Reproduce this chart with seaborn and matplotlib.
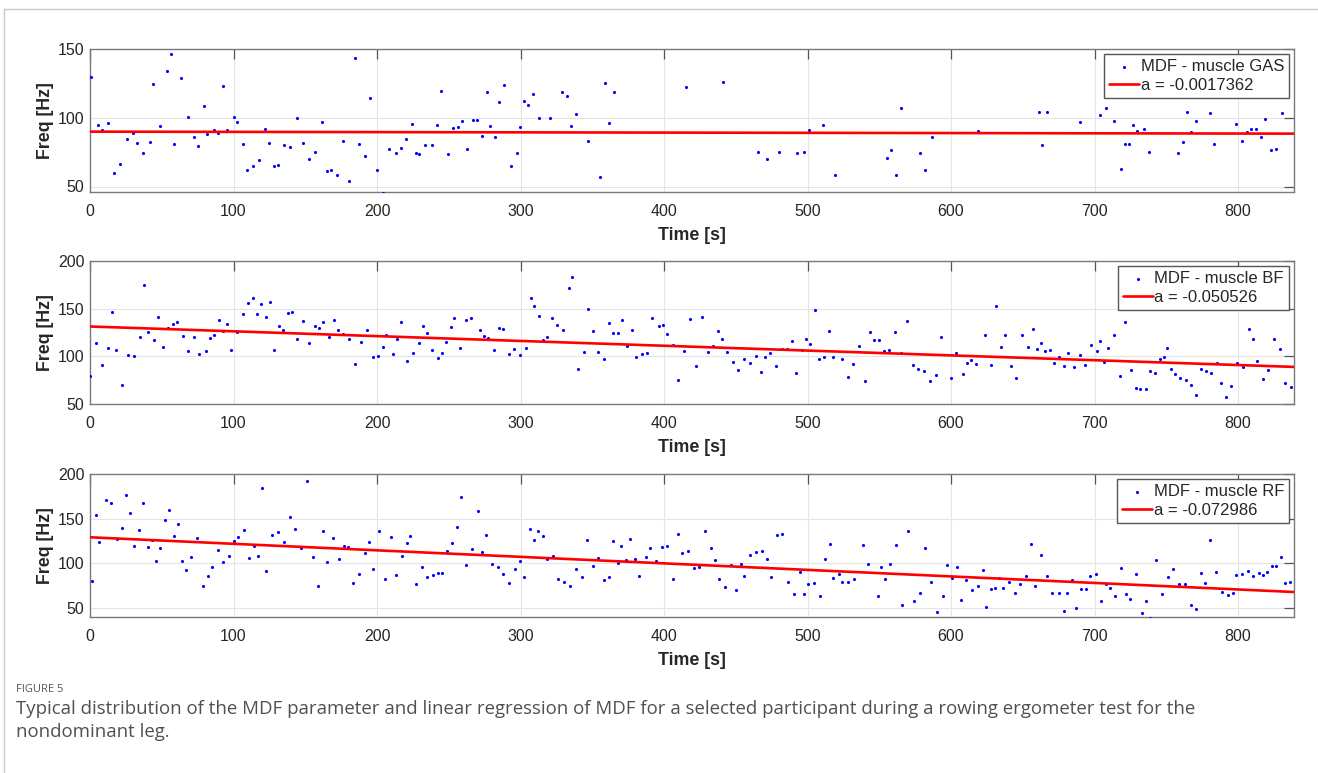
"""
MDF scatter + linear fit for three muscles (GAS, BF, RF), MATLAB-style panels.
"""

import numpy as np
import pandas as pd
import matplotlib
matplotlib.use("Agg")
import matplotlib.pyplot as plt
from matplotlib.lines import Line2D
import seaborn as sns

# ---- data ----
gas_time = [0.5, 5.3, 8.1, 12.5, 16.7, 20.9, 25.5, 30.2, 32.7, 36.9,
            41.6, 44.1, 48.7, 53.4, 56.2, 58.5, 63.1, 68.0, 72.7, 75.2,
            79.2, 81.7, 86.1, 88.9, 92.9, 95.6, 100.0, 102.6, 106.5, 109.3,
            113.5, 117.7, 121.6, 124.4, 128.4, 130.9, 135.1, 139.5, 143.9, 148.3,
            152.7, 157.1, 161.6, 165.3, 168.1, 172.2, 176.4, 180.8, 184.8, 187.3,
            191.3, 195.0, 200.1, 204.3, 208.4, 212.9, 216.6, 220.5, 224.5, 227.0,
            229.3, 233.1, 238.6, 241.6, 244.9, 249.3, 253.0, 256.5, 259.1, 263.0,
            267.0, 269.5, 273.0, 276.7, 279.0, 282.5, 285.0, 288.8, 293.2, 297.4,
            299.7, 302.7, 305.3, 308.8, 313.2, 320.6, 329.2, 332.7, 335.5, 338.7,
            347.3, 355.5, 358.7, 361.7, 365.2, 415.1, 441.0, 465.7, 472.0, 479.8,
            492.6, 497.2, 501.2, 511.1, 519.0, 555.3, 558.1, 562.0, 565.0, 578.7,
            581.7, 586.8, 619.1, 661.1, 663.6, 666.7, 690.1, 704.0, 708.0, 713.8,
            718.2, 721.1, 724.1, 727.0, 729.9, 734.5, 738.0, 758.0, 761.4, 764.6,
            767.4, 770.5, 780.2, 783.2, 798.3, 802.9, 805.9, 808.9, 812.2, 816.1,
            818.7, 823.1, 826.6, 830.6]
gas_mdf = [129.5, 94.5, 90.8, 96.2, 59.5, 66.4, 84.2, 89.1, 81.8, 74.2,
           82.5, 124.6, 93.8, 134.1, 146.1, 80.6, 128.7, 100.6, 86.0, 79.1,
           108.9, 88.4, 90.8, 89.1, 122.9, 91.1, 100.6, 96.9, 80.6, 62.2,
           64.7, 69.3, 91.8, 81.8, 64.7, 65.4, 80.1, 78.6, 100.1, 81.8,
           70.3, 75.2, 96.9, 61.0, 62.2, 58.1, 82.8, 53.7, 143.4, 80.6,
           72.5, 114.3, 61.7, 45.6, 77.6, 74.2, 77.9, 84.2, 95.7, 74.4,
           73.7, 80.3, 80.3, 94.7, 119.7, 73.7, 92.8, 93.0, 97.7, 77.4,
           98.7, 98.7, 86.4, 118.5, 94.3, 86.2, 111.4, 123.6, 64.7, 74.4,
           93.5, 112.1, 109.2, 117.5, 100.1, 100.1, 118.5, 115.5, 94.3, 102.6,
           82.8, 56.6, 125.6, 96.2, 118.5, 122.6, 125.8, 74.9, 70.0, 75.2,
           74.4, 74.9, 90.8, 95.0, 58.1, 71.0, 76.9, 58.6, 107.0, 74.7,
           62.0, 85.7, 90.6, 104.0, 80.1, 104.0, 96.9, 101.8, 107.2, 97.4,
           62.9, 81.1, 80.9, 94.5, 90.1, 91.6, 74.9, 74.4, 82.3, 104.3,
           89.6, 97.4, 103.3, 80.6, 95.7, 83.0, 89.9, 91.8, 92.1, 85.7,
           99.1, 76.7, 77.4, 103.3]

bf_time = [0.2, 3.9, 8.4, 12.3, 15.5, 18.3, 22.3, 26.5, 30.4, 34.6,
           37.8, 40.6, 44.5, 47.6, 50.6, 54.3, 57.5, 60.8, 64.5, 68.4,
           72.4, 76.3, 80.5, 83.8, 86.5, 89.8, 92.6, 95.6, 98.4, 102.3,
           106.3, 110.4, 113.7, 116.5, 119.5, 122.3, 125.3, 128.1, 132.0, 134.6,
           137.8, 140.6, 144.5, 148.5, 152.4, 156.6, 159.9, 162.2, 166.6, 170.3,
           172.9, 176.1, 180.7, 184.9, 188.9, 192.8, 197.0, 200.7, 204.0, 206.5,
           210.9, 214.0, 216.5, 220.9, 225.3, 229.0, 231.8, 234.6, 238.5, 242.5,
           245.5, 248.0, 251.5, 253.8, 258.0, 261.7, 265.4, 271.7, 274.7, 277.5,
           281.7, 285.0, 287.7, 291.7, 295.8, 299.8, 304.0, 307.0, 309.5, 313.0,
           315.8, 318.8, 321.8, 325.5, 329.9, 333.9, 336.2, 340.4, 344.3, 347.3,
           350.4, 354.1, 358.0, 361.5, 364.3, 368.2, 371.0, 374.0, 378.0, 380.5,
           384.5, 388.2, 391.9, 396.3, 399.3, 402.1, 406.3, 410.0, 414.2, 418.3,
           422.5, 426.4, 430.6, 434.1, 437.6, 440.1, 443.8, 447.8, 451.7, 455.4,
           459.6, 463.8, 467.3, 470.1, 473.8, 478.0, 481.9, 485.9, 488.9, 491.9,
           496.1, 499.1, 501.9, 505.1, 507.9, 511.8, 514.9, 517.9, 523.9, 527.9,
           531.4, 536.0, 540.2, 543.6, 546.4, 549.7, 553.4, 557.1, 561.0, 565.0,
           569.1, 573.5, 577.0, 581.2, 585.4, 589.6, 592.8, 599.8, 603.5, 608.1,
           611.1, 613.9, 617.2, 623.9, 627.6, 631.4, 634.6, 637.4, 641.7, 645.4,
           649.6, 653.5, 656.8, 659.8, 662.8, 665.8, 668.9, 671.9, 675.4, 678.4,
           681.4, 685.8, 689.8, 693.5, 697.2, 701.4, 703.9, 706.9, 709.5, 713.4,
           717.8, 721.3, 725.3, 728.7, 732.0, 735.9, 738.9, 741.9, 745.4, 748.2,
           750.8, 753.3, 755.9, 759.6, 764.0, 767.5, 771.0, 774.0, 777.9, 781.2,
           785.3, 788.4, 791.4, 795.3, 799.5, 803.2, 807.4, 810.6, 813.4, 817.2,
           820.9, 825.1, 829.0, 832.9, 836.7]
bf_mdf = [79.4, 114.5, 91.1, 108.5, 146.1, 107.1, 69.5, 101.4, 100.0, 120.2,
          174.5, 125.2, 117.0, 141.1, 109.6, 129.4, 134.0, 135.5, 121.3, 105.7,
          119.9, 102.1, 105.7, 118.8, 122.3, 137.6, 126.2, 134.4, 106.4, 125.5,
          144.3, 155.7, 161.0, 144.3, 155.3, 140.8, 157.1, 106.7, 132.3, 128.0,
          145.0, 146.1, 118.1, 136.9, 114.2, 132.3, 129.4, 135.8, 120.2, 137.9,
          127.7, 123.4, 118.1, 92.2, 114.9, 128.0, 98.9, 100.7, 109.9, 122.3,
          102.5, 118.1, 136.5, 94.7, 103.2, 113.8, 131.6, 124.1, 106.4, 97.9,
          103.5, 115.2, 130.5, 140.4, 109.2, 137.6, 140.4, 127.3, 121.3, 118.8,
          106.4, 129.8, 128.7, 102.8, 107.4, 101.8, 108.5, 161.0, 152.8, 142.6,
          116.7, 120.6, 140.4, 133.0, 127.3, 171.3, 183.0, 86.2, 104.3, 150.0,
          126.2, 104.3, 97.2, 135.1, 124.8, 124.1, 137.9, 110.6, 128.0, 99.6,
          102.5, 103.9, 140.4, 132.3, 133.3, 123.4, 111.7, 74.8, 105.7, 139.0,
          90.1, 140.8, 104.6, 111.3, 126.2, 118.1, 104.3, 94.0, 85.5, 97.5,
          92.9, 100.4, 84.0, 99.6, 103.5, 90.1, 108.2, 108.2, 116.0, 83.0,
          107.1, 117.7, 112.8, 148.9, 97.2, 99.6, 126.6, 99.6, 96.8, 78.4,
          91.5, 111.3, 74.5, 125.9, 117.0, 117.4, 105.3, 106.7, 125.9, 103.9,
          136.9, 91.1, 86.5, 84.4, 74.1, 80.9, 120.6, 77.7, 103.9, 81.9,
          93.3, 96.5, 91.8, 122.3, 90.8, 152.5, 109.9, 121.9, 89.4, 77.7,
          122.3, 110.3, 129.1, 108.2, 114.5, 105.7, 106.4, 93.3, 99.3, 90.1,
          103.2, 88.3, 101.4, 91.1, 112.1, 106.0, 115.6, 93.6, 109.2, 121.9,
          79.1, 136.5, 85.8, 67.0, 65.6, 65.6, 84.4, 83.0, 96.8, 99.3,
          108.9, 86.2, 81.9, 77.0, 74.8, 70.2, 59.9, 87.2, 84.4, 82.3,
          92.6, 72.0, 57.8, 68.4, 93.3, 88.3, 128.4, 117.7, 95.0, 75.9,
          85.8, 117.7, 107.8, 71.6, 67.4]

rf_time = [1.4, 4.2, 6.5, 10.9, 14.8, 18.8, 22.0, 24.8, 28.1, 30.9,
           34.1, 36.9, 40.4, 43.2, 46.2, 49.0, 52.2, 55.0, 58.2, 61.0,
           64.3, 67.1, 70.5, 74.9, 78.9, 82.4, 84.9, 89.1, 93.0, 97.2,
           100.2, 102.8, 107.2, 111.1, 114.6, 117.2, 120.2, 122.7, 126.7, 130.8,
           135.0, 139.2, 143.2, 147.3, 151.3, 155.2, 159.2, 162.6, 165.2, 169.4,
           173.3, 177.0, 179.6, 183.5, 187.2, 191.6, 194.7, 197.4, 201.6, 205.6,
           209.5, 213.5, 217.6, 220.6, 223.2, 227.1, 231.3, 235.0, 239.2, 242.5,
           245.2, 248.9, 252.4, 255.7, 258.2, 262.2, 265.9, 270.1, 273.3, 275.9,
           279.8, 284.2, 287.9, 291.9, 296.1, 299.3, 302.3, 306.3, 309.7, 312.1,
           315.8, 318.3, 322.3, 326.4, 330.2, 334.3, 338.5, 342.5, 346.4, 350.4,
           354.3, 358.3, 361.8, 364.3, 367.8, 370.3, 373.8, 376.6, 380.1, 382.6,
           387.1, 390.3, 394.7, 398.4, 402.3, 406.3, 409.8, 412.6, 416.5, 420.6,
           424.6, 428.5, 432.5, 435.7, 438.5, 442.5, 446.4, 450.4, 453.4, 455.9,
           459.9, 464.3, 468.2, 471.7, 474.3, 478.5, 482.2, 486.3, 490.5, 494.5,
           497.7, 500.3, 504.4, 508.4, 512.1, 515.6, 518.1, 521.6, 524.2, 528.3,
           532.5, 538.5, 542.2, 548.9, 551.0, 553.8, 557.7, 561.9, 566.1, 570.0,
           574.2, 578.2, 582.1, 586.1, 590.0, 594.4, 597.4, 600.4, 603.9, 606.7,
           610.4, 614.6, 618.5, 622.0, 624.6, 627.8, 630.6, 633.6, 636.4, 640.3,
           644.5, 648.2, 652.4, 655.6, 658.7, 662.4, 666.6, 670.7, 675.1, 678.4,
           680.9, 684.4, 686.8, 690.7, 694.2, 696.8, 700.7, 704.7, 707.9, 710.9,
           714.6, 718.6, 722.1, 724.6, 728.6, 732.8, 735.8, 738.8, 743.0, 746.9,
           751.1, 755.0, 759.0, 763.1, 767.1, 770.8, 774.3, 776.9, 780.8, 784.8,
           788.9, 792.9, 796.4, 798.9, 802.9, 806.6, 810.7, 814.5, 817.3, 820.5,
           823.8, 826.3, 829.6, 832.4, 836.1]
rf_mdf = [80.6, 153.9, 123.7, 170.9, 167.5, 127.1, 139.9, 176.2, 156.9, 119.9,
          137.3, 167.5, 118.8, 126.3, 102.9, 116.9, 148.6, 159.2, 130.1, 144.5,
          102.9, 93.1, 107.1, 128.6, 75.0, 85.5, 96.1, 115.0, 101.0, 108.2,
          125.2, 129.0, 137.7, 105.9, 119.5, 107.8, 183.8, 92.0, 131.6, 135.0,
          123.7, 152.0, 138.0, 117.3, 191.7, 107.4, 74.2, 135.8, 101.0, 128.2,
          105.2, 119.9, 118.0, 77.6, 87.8, 111.2, 123.7, 94.2, 136.5, 82.9,
          129.7, 87.4, 107.8, 122.6, 130.5, 76.8, 95.7, 84.8, 87.4, 89.3,
          88.9, 114.2, 122.6, 141.1, 174.3, 98.4, 116.5, 158.1, 112.4, 131.6,
          99.5, 96.1, 88.2, 77.6, 94.2, 102.2, 84.8, 138.8, 125.6, 136.2,
          130.9, 104.8, 108.6, 82.5, 79.1, 75.0, 93.8, 85.2, 125.6, 96.6,
          105.6, 81.0, 85.2, 124.8, 100.6, 119.5, 103.3, 127.1, 104.8, 85.9,
          107.1, 117.3, 102.5, 118.0, 119.9, 82.9, 133.1, 112.0, 113.9, 94.6,
          96.5, 135.8, 117.6, 103.7, 82.9, 73.4, 98.4, 70.4, 99.1, 85.9,
          109.3, 112.4, 114.2, 105.2, 84.4, 131.2, 133.1, 79.1, 65.9, 90.1,
          65.9, 76.8, 78.0, 63.2, 104.8, 121.4, 83.6, 87.8, 79.1, 79.1,
          82.5, 120.3, 98.8, 63.6, 95.7, 82.9, 98.8, 121.0, 53.4, 136.2,
          57.6, 67.0, 117.3, 79.5, 45.5, 63.2, 97.7, 84.0, 95.4, 59.5,
          81.4, 70.4, 75.0, 92.3, 50.8, 70.8, 72.7, 84.0, 71.9, 78.7,
          67.4, 76.5, 86.3, 121.8, 74.2, 109.3, 85.9, 66.7, 66.3, 47.0,
          66.7, 81.4, 50.0, 70.8, 70.8, 85.5, 87.8, 57.9, 76.5, 71.9,
          64.0, 95.0, 65.5, 60.2, 87.8, 44.4, 58.3, 39.1, 103.3, 65.9,
          84.8, 93.5, 76.8, 76.8, 53.8, 48.9, 88.9, 78.4, 125.6, 90.1,
          67.8, 64.4, 66.7, 86.7, 87.8, 92.0, 85.5, 89.7, 87.4, 90.1,
          97.2, 96.8, 107.1, 77.6, 79.1]

muscles = ["GAS", "BF", "RF"]
slopes = [-0.0017362, -0.050526, -0.072986]
intercepts = [89.9, 131.3, 129.2]
ylims = [(46, 150), (50, 200), (40, 200)]
yticks = [[50, 100, 150], [50, 100, 150, 200], [50, 100, 150, 200]]
xticks = [0, 100, 200, 300, 400, 500, 600, 700, 800]
x_end = 839

series = [(gas_time, gas_mdf), (bf_time, bf_mdf), (rf_time, rf_mdf)]

# ---- style ----
sns.set_style("whitegrid")
plt.rcParams["font.family"] = ["Liberation Sans", "DejaVu Sans"]
plt.rcParams["axes.edgecolor"] = "#7a7a7a"
plt.rcParams["grid.color"] = "#e4e4e4"
plt.rcParams["grid.linewidth"] = 0.8

W, H = 1318, 773
fig = plt.figure(figsize=(W / 100, H / 100), dpi=100)

# axes boxes in pixels: left, top, right, bottom
boxes = [(90, 49, 1294, 192), (90, 261, 1294, 404), (90, 474, 1294, 617)]

for i, (box, (t, f)) in enumerate(zip(boxes, series)):
    l, tp, r, b = box
    ax = fig.add_axes([l / W, 1 - b / H, (r - l) / W, (b - tp) / H])
    df = pd.DataFrame({"t": t, "f": f})
    sns.scatterplot(data=df, x="t", y="f", ax=ax, color="#0000ff", s=5,
                    linewidth=0, label=f"MDF - muscle {muscles[i]}", zorder=3)
    fit = pd.DataFrame({"t": [0, x_end]})
    fit["f"] = intercepts[i] + slopes[i] * fit["t"]
    sns.lineplot(data=fit, x="t", y="f", ax=ax, color="#ff0000", linewidth=1.9,
                 label=f"a = {slopes[i]}", zorder=4)

    ax.set_xlim(0, x_end)
    ax.set_ylim(*ylims[i])
    ax.set_xticks(xticks)
    ax.set_yticks(yticks[i])
    ax.tick_params(axis="both", direction="in", length=7.5, width=0.9,
                   color="#555555", labelsize=11.5, labelcolor="#262626",
                   top=True, right=True)
    ax.tick_params(axis="x", pad=8.5)
    ax.tick_params(axis="y", pad=4)
    for sp in ax.spines.values():
        sp.set_linewidth(1.0)
        sp.set_color("#7a7a7a")
    ax.set_xlabel("Time [s]", fontsize=12.8, fontweight="bold", color="#262626",
                  labelpad=6)
    ax.set_ylabel("Freq [Hz]", fontsize=12.8, fontweight="bold", color="#262626",
                  labelpad=3)
    leg = ax.legend(loc="upper right", fontsize=12, frameon=True, fancybox=False,
                    framealpha=1, edgecolor="#555555", borderpad=0.3,
                    labelspacing=0.25, handlelength=1.75, handletextpad=0.12,
                    borderaxespad=0.3, markerscale=1.0)
    leg.get_frame().set_linewidth(1.0)

# ---- page frame and caption ----
fig.add_artist(Line2D([4 / W, 4 / W], [0, 1 - 9 / H], transform=fig.transFigure,
                      color="#c8c8c8", linewidth=1))
fig.add_artist(Line2D([4 / W, 1], [1 - 9 / H, 1 - 9 / H], transform=fig.transFigure,
                      color="#c8c8c8", linewidth=1))

cap_font = ["Open Sans", "DejaVu Sans"]
fig.text(16 / W, 1 - 690 / H, "FIGURE 5", fontsize=8, color="#555555",
         family=cap_font, va="center")
fig.text(16 / W, 1 - 709 / H,
         "Typical distribution of the MDF parameter and linear regression of MDF "
         "for a selected participant during a rowing ergometer test for the",
         fontsize=13.4, color="#505050", family=cap_font, va="center")
fig.text(16 / W, 1 - 732 / H, "nondominant leg.", fontsize=13.4, color="#505050",
         family=cap_font, va="center")

fig.savefig("out.png", dpi=100)
